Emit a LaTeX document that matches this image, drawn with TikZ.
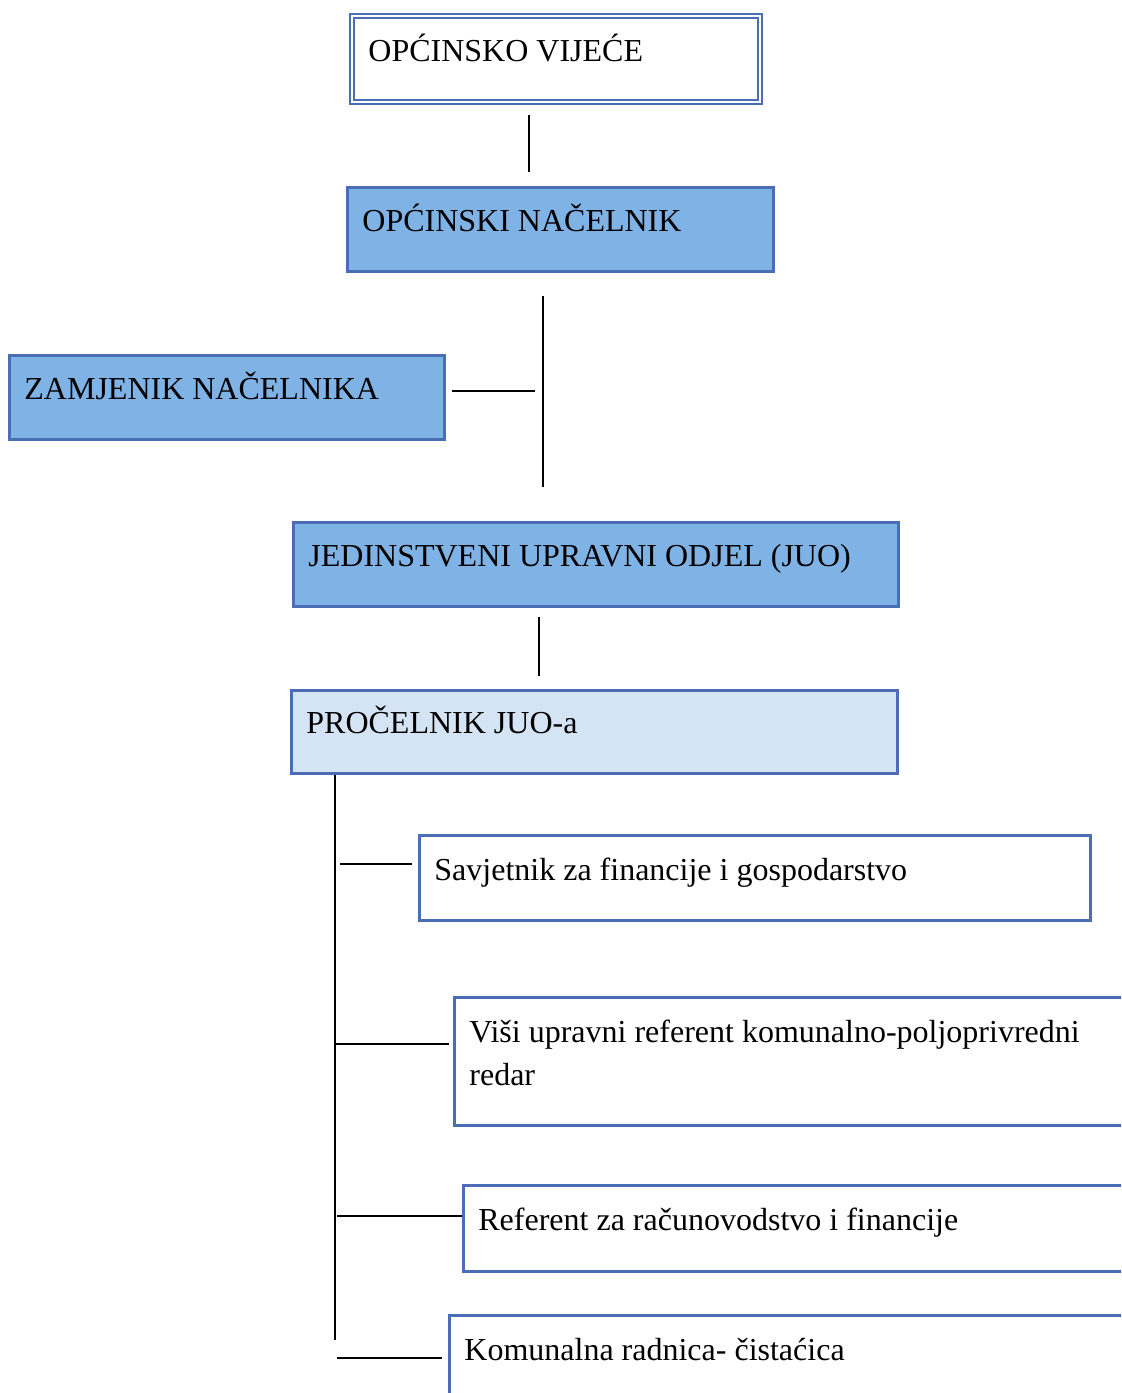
\documentclass[tikz,border=0pt]{standalone}
\usepackage{fontspec}
\setmainfont{Liberation Serif}
\definecolor{bordblue}{HTML}{4A6DB5}
\definecolor{fillblue}{HTML}{7FB2E5}
\definecolor{filllight}{HTML}{D5E4F5}
\begin{document}
\begin{tikzpicture}[x=0.5pt,y=-0.5pt,
  box/.style={draw=bordblue, line width=1.4pt, anchor=north west, inner sep=0pt, outer sep=0pt},
  darkbox/.style={box, fill=fillblue},
  lightbox/.style={box, fill=filllight},
  whitebox/.style={box, fill=white},
  txt/.style={anchor=base west, inner sep=0pt, font=\fontsize{16}{19}\selectfont},
  conn/.style={draw=black, line width=1pt}]
\useasboundingbox (0,0) rectangle (1121,1393);
\clip (0,0) rectangle (1121,1393);
% boxes
\node[box, draw=bordblue, line width=0.9pt, double=white, double distance=1pt, fill=white,
      minimum width=204pt, minimum height=43pt] (vijece) at (352,16) {};
\node[darkbox, minimum width=213pt, minimum height=42pt] (nacelnik) at (347.5,187.5) {};
\node[darkbox, minimum width=217.5pt, minimum height=42pt] (zamjenik) at (9.5,355.5) {};
\node[darkbox, minimum width=302.5pt, minimum height=42pt] (juo) at (293.5,522.5) {};
\node[lightbox, minimum width=303pt, minimum height=41.5pt] (procelnik) at (291.5,690.5) {};
\node[whitebox, minimum width=335.5pt, minimum height=42.5pt] (savjetnik) at (419.5,835.5) {};
\node[whitebox, minimum width=340pt, minimum height=64pt] (visi) at (454.5,997.5) {};
\node[whitebox, minimum width=340pt, minimum height=43pt] (referent) at (463.5,1185.5) {};
\node[whitebox, minimum width=340pt, minimum height=60pt] (komunalna) at (449.5,1315.5) {};
% texts
\node[txt] (t1) at (368,61) {OPĆINSKO VIJEĆE};
\node[txt] (t2) at (362,231) {OPĆINSKI NAČELNIK};
\node[txt] (t3) at (24,399) {ZAMJENIK NAČELNIKA};
\node[txt] (t4) at (308,566) {JEDINSTVENI UPRAVNI ODJEL (JUO)};
\node[txt] (t5) at (306,733) {PROČELNIK JUO-a};
\node[txt] (t6) at (434,880) {Savjetnik za financije i gospodarstvo};
\node[txt] (t7a) at (469,1042) {Viši upravni referent komunalno-poljoprivredni};
\node[txt] (t7b) at (469,1085) {redar};
\node[txt] (t8) at (478,1230) {Referent za računovodstvo i financije};
\node[txt] (t9) at (464,1360) {Komunalna radnica- čistaćica};
% connector coordinates
\coordinate (a1) at (529,115);  \coordinate (a2) at (529,172);
\coordinate (b1) at (543,296);  \coordinate (b2) at (543,487);
\coordinate (c1) at (452,391);  \coordinate (c2) at (535,391);
\coordinate (d1) at (539,617);  \coordinate (d2) at (539,676);
\coordinate (e1) at (335,775);  \coordinate (e2) at (335,1340);
\coordinate (f1) at (340,864);  \coordinate (f2) at (412,864);
\coordinate (g1) at (336,1044); \coordinate (g2) at (449,1044);
\coordinate (h1) at (337,1216); \coordinate (h2) at (462,1216);
\coordinate (i1) at (337,1358); \coordinate (i2) at (442,1358);
\draw[conn] (a1) -- (a2);
\draw[conn] (b1) -- (b2);
\draw[conn] (c1) -- (c2);
\draw[conn] (d1) -- (d2);
\draw[conn] (e1) -- (e2);
\draw[conn] (f1) -- (f2);
\draw[conn] (g1) -- (g2);
\draw[conn] (h1) -- (h2);
\draw[conn] (i1) -- (i2);
\end{tikzpicture}
\end{document}
